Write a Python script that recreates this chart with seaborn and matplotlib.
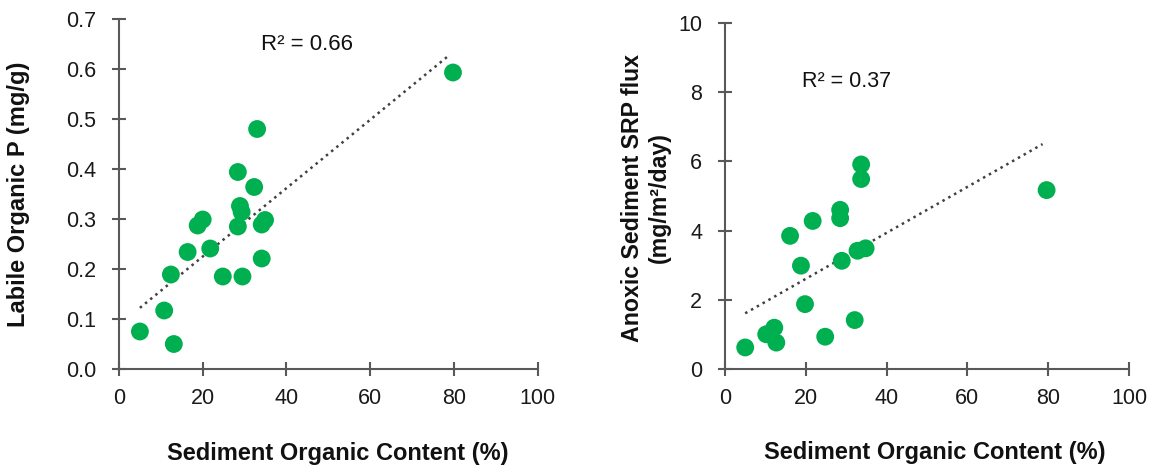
import numpy as np
import pandas as pd
import seaborn as sns
import matplotlib.pyplot as plt

# Left panel: Labile organic P vs sediment organic content
om_left = [5.0, 13.1, 10.8, 12.4, 16.4, 18.8, 20.0, 21.8, 24.8, 29.5,
           28.4, 32.3, 33.0, 28.9, 29.3, 28.4, 34.1, 34.1, 34.9, 79.8]
labile_p = [0.075, 0.050, 0.117, 0.189, 0.234, 0.287, 0.299, 0.241, 0.185, 0.185,
            0.394, 0.364, 0.480, 0.326, 0.314, 0.285, 0.221, 0.289, 0.298, 0.593]

# Right panel: anoxic SRP flux vs sediment organic content
om_right = [5.0, 10.2, 12.2, 12.7, 16.1, 18.8, 19.8, 21.7, 24.8, 28.5,
            28.5, 28.9, 32.1, 32.8, 34.8, 33.7, 33.7, 79.6]
srp_flux = [0.63, 1.01, 1.20, 0.77, 3.85, 2.99, 1.88, 4.28, 0.94, 4.60,
            4.36, 3.13, 1.42, 3.42, 3.49, 5.91, 5.49, 5.17]

r2_labels = ["R² = 0.66", "R² = 0.37"]

sns.set_theme(style="white")
plt.rcParams['font.family'] = ['Liberation Sans', 'DejaVu Sans']

green = "#00B050"
spine_c = "#595959"

fig = plt.figure(figsize=(11.53, 4.69), dpi=100)
ax1 = fig.add_axes([0.1032, 0.2132, 0.3630, 0.7463])
ax2 = fig.add_axes([0.6288, 0.2126, 0.3504, 0.7390])

df1 = pd.DataFrame({"x": om_left, "y": labile_p})
df2 = pd.DataFrame({"x": om_right, "y": srp_flux})


def trend(ax, df):
    k, b = np.polyfit(df["x"], df["y"], 1)
    xs = np.array([df["x"].min(), df["x"].max() - 1])
    ax.plot(xs, k * xs + b, linestyle=(0, (1, 1.67)), color="#404040", lw=1.8, zorder=1)


for ax, df in [(ax1, df1), (ax2, df2)]:
    sns.scatterplot(data=df, x="x", y="y", ax=ax, color=green, s=165,
                    edgecolor="none", zorder=3, legend=False)
    trend(ax, df)
    ax.set_xlim(0, 100)
    ax.set_xticks(range(0, 101, 20))
    for s in ["top", "right"]:
        ax.spines[s].set_visible(False)
    for s in ["left", "bottom"]:
        ax.spines[s].set_color(spine_c)
        ax.spines[s].set_linewidth(1.5)
    ax.tick_params(direction="inout", length=10, width=1.5, color=spine_c,
                   labelsize=15.5, labelcolor="#1a1a1a",
                   left=True, bottom=True)
    ax.tick_params(axis="x", pad=8.5)
    ax.tick_params(axis="y", pad=11.5)
    ax.set_xlabel("Sediment Organic Content (%)", fontsize=17,
                  fontweight="bold", color="#111111", va="center")

ax1.xaxis.set_label_coords(0.523, -0.24)
ax2.xaxis.set_label_coords(0.52, -0.239)

ax1.set_ylim(0, 0.7)
ax1.set_yticks(np.arange(0, 0.71, 0.1))
ax1.set_yticklabels([f"{v:.1f}" for v in np.arange(0, 0.71, 0.1)])
ax1.set_ylabel("Labile Organic P (mg/g)", fontsize=17, fontweight="bold",
               color="#111111", va="center")
ax1.yaxis.set_label_coords(-0.240, 0.5)
ax1.text(34.0, 0.648, r2_labels[0], fontsize=16, va="center", color="#111111")

ax2.set_ylim(0, 10)
ax2.set_yticks(range(0, 11, 2))
ax2.set_ylabel("Anoxic Sediment SRP flux\n(mg/m²/day)", fontsize=16.7,
               fontweight="bold", color="#111111", va="center")
ax2.yaxis.set_label_coords(-0.196, 0.495)
ax2.text(19.0, 8.29, r2_labels[1], fontsize=15.5, va="center", color="#111111")

fig.savefig("out.png", dpi=100)
